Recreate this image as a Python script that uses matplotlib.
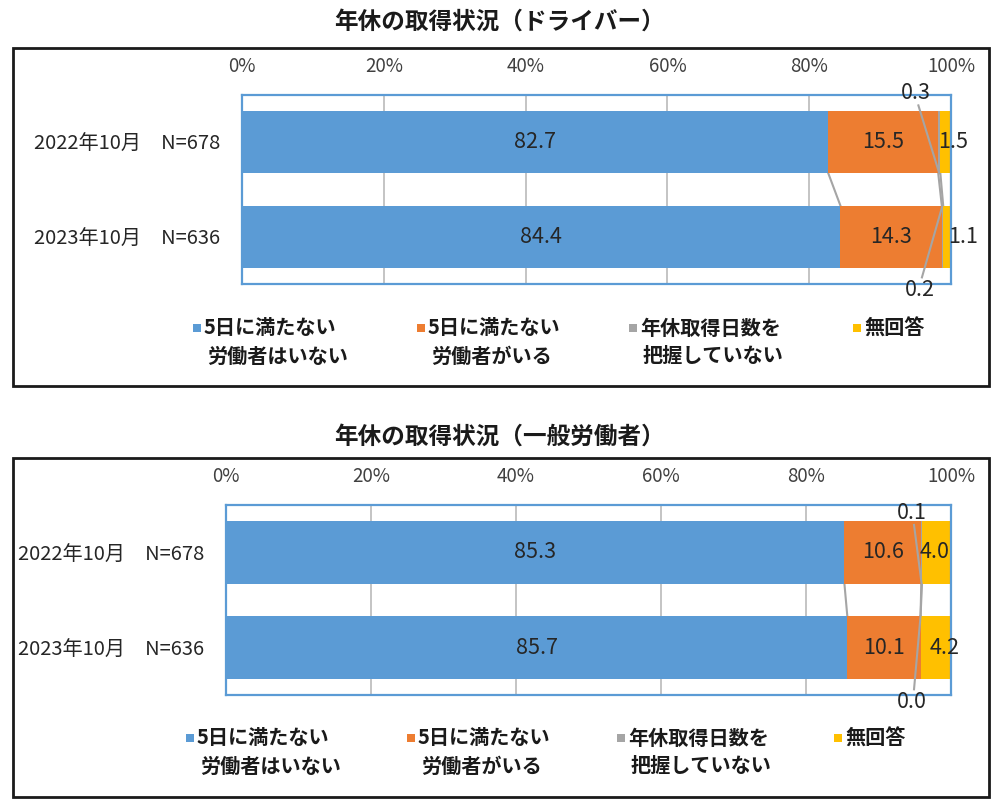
import matplotlib
matplotlib.use("Agg")
import matplotlib.pyplot as plt
from matplotlib.patches import Rectangle
import numpy as np

plt.rcParams['font.family'] = ['Noto Sans CJK JP', 'DejaVu Sans']

# ---------------- data ----------------
categories = ["2022年10月　N=678", "2023年10月　N=636"]
series_names = ["5日に満たない\n労働者はいない", "5日に満たない\n労働者がいる",
                "年休取得日数を\n把握していない", "無回答"]
colors = ["#5B9BD5", "#ED7D31", "#A5A5A5", "#FFC000"]

title_driver = "年休の取得状況（ドライバー）"
driver_vals = [
    [82.7, 84.4],   # 5日に満たない労働者はいない
    [15.5, 14.3],   # 5日に満たない労働者がいる
    [0.3, 0.2],     # 把握していない
    [1.5, 1.1],     # 無回答
]
title_general = "年休の取得状況（一般労働者）"
general_vals = [
    [85.3, 85.7],
    [10.6, 10.1],
    [0.1, 0.0],
    [4.0, 4.2],
]
xticks = [0, 20, 40, 60, 80, 100]
xtick_labels = ["0%", "20%", "40%", "60%", "80%", "100%"]

W, H = 1000, 808
fig = plt.figure(figsize=(W / 100, H / 100), dpi=100)


def fx(x):
    return x / W


def fy(y):
    return 1 - y / H


TXT = "#262626"
LBL = 15.5


def panel(vals, title, title_y, box, ax_box, yellow_shift, gray_lbl, legend_cfg):
    # outer box
    bx0, by0, bx1, by1 = box
    fig.patches.append(Rectangle((fx(bx0), fy(by1)), fx(bx1 - bx0), (by1 - by0) / H,
                                 transform=fig.transFigure, fill=False,
                                 edgecolor="#1a1a1a", linewidth=2.0, zorder=0))
    fig.text(0.5, fy(title_y), title, ha="center", va="center",
             fontsize=17, fontweight="bold", color="#1a1a1a")

    l, t, r, b = ax_box
    ax = fig.add_axes([fx(l), fy(b), fx(r - l), (b - t) / H])
    n = len(categories)
    ypos = np.arange(n)
    bh = 0.66
    left = np.zeros(n)
    bounds = [left.copy()]
    for i, v in enumerate(vals):
        v = np.array(v, dtype=float)
        ax.barh(ypos, v, left=left, height=bh, color=colors[i], edgecolor="none", zorder=2)
        for j in range(n):
            if i == 2:
                continue
            cx = left[j] + v[j] / 2
            if i == 3:
                cx += yellow_shift[j]
            ax.text(cx, ypos[j], f"{v[j]:.1f}", ha="center", va="center",
                    fontsize=LBL, color=TXT, zorder=5)
        left = left + v
        bounds.append(left.copy())

    # series lines
    for k in range(1, len(bounds)):
        bd = bounds[k]
        ax.plot([bd[0], bd[1]], [ypos[0] + bh / 2, ypos[1] - bh / 2],
                color="#A5A5A5", lw=1.5, zorder=1)

    # gray labels (outside) with leader lines
    gv = vals[2]
    gstart = bounds[2]
    (lx0, ly0), (lx1, ly1) = gray_lbl
    ax.text(lx0, ly0, f"{gv[0]:.1f}", ha="center", va="center",
            fontsize=LBL, color=TXT, zorder=5, clip_on=False)
    ax.plot([lx0 + 0.3, gstart[0] + gv[0] / 2],
            [ly0 + 0.13, ypos[0] + bh / 2], color="#A5A5A5", lw=1.5, zorder=3,
            clip_on=False)
    ax.text(lx1, ly1, f"{gv[1]:.1f}", ha="center", va="center",
            fontsize=LBL, color=TXT, zorder=5, clip_on=False)
    ax.plot([gstart[1] + gv[1] / 2, lx1 + 0.3],
            [ypos[1] - bh / 2, ly1 - 0.13], color="#A5A5A5", lw=1.5, zorder=3,
            clip_on=False)

    ax.set_xlim(0, 100)
    ax.set_ylim(n - 0.5, -0.5)
    ax.set_yticks(ypos)
    ax.set_yticklabels(categories, fontsize=14.5, color=TXT)
    ax.xaxis.tick_top()
    ax.set_xticks(xticks)
    ax.set_xticklabels(xtick_labels, fontsize=13.5, color="#404040")
    ax.tick_params(axis="both", length=0)
    ax.tick_params(axis="x", pad=13)
    ax.tick_params(axis="y", pad=16)
    ax.grid(axis="x", color="#BFBFBF", lw=1.3, zorder=0)
    for s in ax.spines.values():
        s.set_color("#5B9BD5")
        s.set_linewidth(1.6)

    # legend
    mk_x, ly_top, gap = legend_cfg
    for i, name in enumerate(series_names):
        mx = mk_x[i]
        fig.patches.append(Rectangle((fx(mx - 4), fy(ly_top + 4)), fx(8), 8 / H,
                                     transform=fig.transFigure,
                                     facecolor=colors[i], edgecolor="none"))
        lines = name.split("\n")
        fig.text(fx(mx + 7), fy(ly_top), lines[0], ha="left", va="center",
                 fontsize=14.5, fontweight="bold", color="#1a1a1a")
        if len(lines) > 1:
            fig.text(fx(mx + 10), fy(ly_top + gap), lines[1], ha="left", va="center",
                     fontsize=14.5, fontweight="bold", color="#1a1a1a")
    return ax


panel(driver_vals, title_driver, 22, (13, 48, 989, 386), (242, 95, 951, 284),
      yellow_shift=[1.0, 2.3],
      gray_lbl=((95.1, -0.52), (95.6, 1.56)),
      legend_cfg=([197, 421, 633, 857], 328, 28))

panel(general_vals, title_general, 437, (13, 458, 989, 797), (226, 505, 951, 695),
      yellow_shift=[-0.2, 1.2],
      gray_lbl=((94.6, -0.42), (94.6, 1.57)),
      legend_cfg=([190, 411, 621, 838], 738, 28))

fig.savefig("out.png", dpi=100, facecolor="white")
